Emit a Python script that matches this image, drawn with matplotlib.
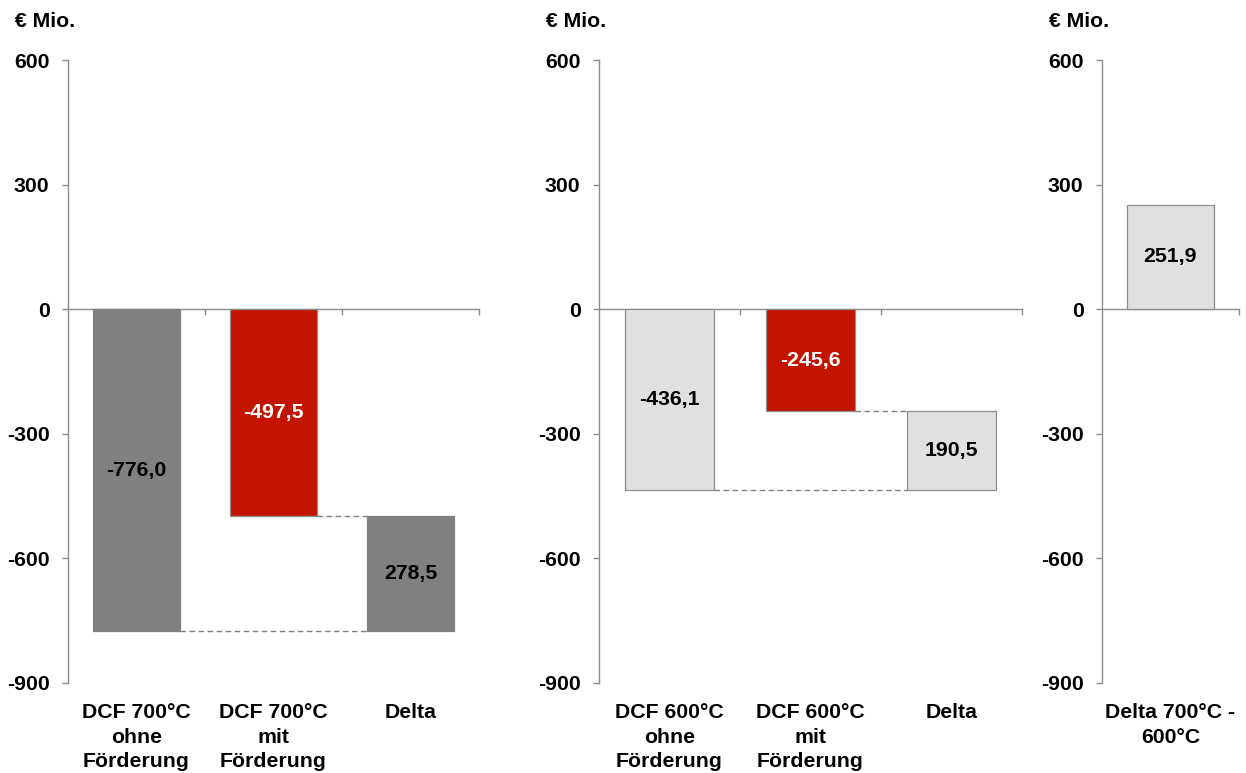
import matplotlib
matplotlib.use("Agg")
import matplotlib.pyplot as plt
from matplotlib.transforms import blended_transform_factory
import numpy as np

plt.rcParams['font.family'] = ['Liberation Sans', 'DejaVu Sans']
plt.rcParams['font.weight'] = 'bold'

# ---- data -------------------------------------------------------------
unit_label = "€ Mio."
y_ticks = [600, 300, 0, -300, -600, -900]

cats_700 = ["DCF 700°C\nohne\nFörderung", "DCF 700°C\nmit\nFörderung", "Delta"]
dcf_700 = [-776.0, -497.5]          # ohne / mit Förderung
delta_700 = 278.5

cats_600 = ["DCF 600°C\nohne\nFörderung", "DCF 600°C\nmit\nFörderung", "Delta"]
dcf_600 = [-436.1, -245.6]
delta_600 = 190.5

cats_diff = ["Delta 700°C -\n600°C"]
delta_700_600 = [251.9]

# ---- styling ----------------------------------------------------------
DARK = "#808080"
LIGHT = "#E0E0E0"
RED = "#C31400"
EDGE = "#8C8C8C"
AXIS = "#8C8C8C"
FS = 15.3
BAR_W = 0.63

W, H = 1246, 773
fig = plt.figure(figsize=(W / 100, H / 100), dpi=100)


def px_axes(left, right, top=60, bottom=683):
    return fig.add_axes([left / W, 1 - bottom / H, (right - left) / W, (bottom - top) / H])


def style_axes(ax, categories):
    n = len(categories)
    ax.set_xlim(-0.5, n - 0.5)
    ax.set_ylim(-900, 600)
    for s in ("top", "right"):
        ax.spines[s].set_visible(False)
    ax.spines["bottom"].set_position(("data", 0))
    for s in ("left", "bottom"):
        ax.spines[s].set_color(AXIS)
        ax.spines[s].set_linewidth(1.0)
    ax.set_yticks(y_ticks)
    ax.set_yticklabels([str(t) for t in y_ticks], fontsize=FS, fontweight="bold")
    ax.tick_params(axis="y", direction="out", length=4.3, width=1.0, color=AXIS, pad=9.0)
    ax.set_xticks(np.arange(n) + 0.5)
    ax.set_xticklabels([])
    ax.tick_params(axis="x", direction="out", length=4.3, width=1.0, color=AXIS)
    trans = blended_transform_factory(ax.transData, ax.transAxes)
    for i, c in enumerate(categories):
        ax.annotate(c, xy=(i, 0), xycoords=trans, xytext=(0, -14.5),
                    textcoords="offset points", ha="center", va="top",
                    fontsize=FS, fontweight="bold", linespacing=1.36)
    ax.annotate(unit_label, xy=(0, 1), xycoords="axes fraction",
                xytext=(-38.2, 27.4), textcoords="offset points",
                ha="left", va="center", fontsize=FS, fontweight="bold")


def fmt(v):
    return f"{v:.1f}".replace(".", ",")


def waterfall(ax, dcf, delta, base_color, edge_color):
    x = np.arange(3)
    bottoms = [0, 0, dcf[0]]
    heights = [dcf[0], dcf[1], delta]
    colors = [base_color, RED, base_color]
    edges = [edge_color, EDGE, edge_color]
    ax.bar(x, heights, bottom=bottoms, width=BAR_W, color=colors,
           edgecolor=edges, linewidth=0.9, zorder=3)
    # dashed connectors between the bars
    ax.plot([x[1] + BAR_W / 2, x[2] - BAR_W / 2], [dcf[1], dcf[1]],
            ls=(0, (4, 2.5)), color=DARK, lw=1.0, zorder=2)
    ax.plot([x[0] + BAR_W / 2, x[2] - BAR_W / 2], [dcf[0], dcf[0]],
            ls=(0, (4, 2.5)), color=DARK, lw=1.0, zorder=2)
    ax.text(x[0], dcf[0] / 2, fmt(dcf[0]), ha="center", va="center",
            fontsize=FS, fontweight="bold", color="black", zorder=4)
    ax.text(x[1], dcf[1] / 2, fmt(dcf[1]), ha="center", va="center",
            fontsize=FS, fontweight="bold", color="white", zorder=4)
    ax.text(x[2], dcf[0] + delta / 2, fmt(delta), ha="center", va="center",
            fontsize=FS, fontweight="bold", color="black", zorder=4)


ax1 = px_axes(68, 479)
style_axes(ax1, cats_700)
waterfall(ax1, dcf_700, delta_700, DARK, DARK)

ax2 = px_axes(599, 1022)
style_axes(ax2, cats_600)
waterfall(ax2, dcf_600, delta_600, LIGHT, EDGE)

ax3 = px_axes(1102, 1239)
style_axes(ax3, cats_diff)
ax3.bar([0], delta_700_600, width=BAR_W, color=LIGHT, edgecolor=EDGE,
        linewidth=0.9, zorder=3)
ax3.text(0, delta_700_600[0] / 2, fmt(delta_700_600[0]), ha="center", va="center",
         fontsize=FS, fontweight="bold", color="black", zorder=4)

fig.savefig("out.png", dpi=100)
